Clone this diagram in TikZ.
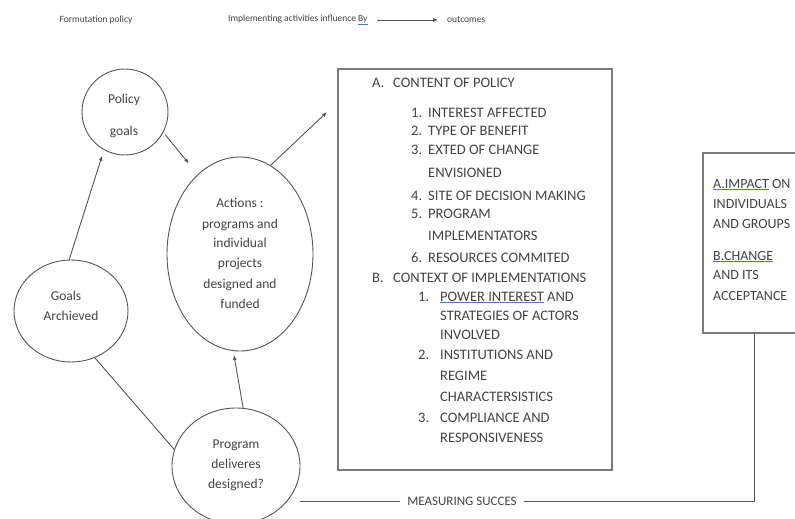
\documentclass[tikz,border=0pt]{standalone}
\usepackage{fontspec}
\setmainfont{Carlito}
\usetikzlibrary{shapes.geometric,arrows.meta}
\definecolor{ink}{HTML}{444444}
\definecolor{edge}{HTML}{555555}
\definecolor{frame}{HTML}{7a7a7a}
\definecolor{markblue}{HTML}{5a72b5}
% word with a thin blue underline
\newcommand\marked[1]{{\color{markblue}\underline{\color{ink}#1}}}
\begin{document}
\begin{tikzpicture}[x=1pt,y=-1pt,
  bubble/.style={draw=edge, line width=0.9pt, ellipse, inner sep=0pt},
  panel/.style={draw=frame, line width=1.3pt, rectangle, inner sep=0pt},
  lbl/.style={text=ink, inner sep=0pt},
  toplbl/.style={lbl, font=\fontsize{9.5}{11}\selectfont},
  bublbl/.style={lbl, anchor=base, font=\fontsize{13.5}{16}\selectfont},
  item/.style={lbl, anchor=base west, font=\fontsize{14.5}{17}\selectfont},
  ritem/.style={lbl, anchor=base west, font=\fontsize{14}{17}\selectfont},
  link/.style={draw=edge, line width=0.9pt},
  arr/.style={link, -{Latex[length=5pt,width=4pt]}}]
\useasboundingbox (0,0) rectangle (795,519);
\fill[white] (0,0) rectangle (795,519);

% headings
\node[toplbl] (form) at (96,20) {Formutation policy};
\node[toplbl, anchor=west] (impl) at (228,20) {Implementing activities influence \marked{By}};
\node[toplbl, anchor=west] (outc) at (447,20) {outcomes};
\draw[arr, shorten <=9pt, shorten >=9pt] (impl.east) -- (outc.west);

% bubbles
\node[bubble, minimum width=86pt, minimum height=86pt] (policy) at (125,112) {};
\node[bubble, minimum width=146pt, minimum height=194pt] (actions) at (240,254) {};
\node[bubble, minimum width=114pt, minimum height=102pt] (goalsA) at (71,311) {};
\node[bubble, minimum width=128pt, minimum height=116pt] (program) at (236,466) {};

\node[bublbl] (p1) at (124,103) {Policy};
\node[bublbl] (p2) at (124,135) {goals};

\node[bublbl] (a1) at (240,207) {Actions :};
\node[bublbl] (a2) at (240,228) {programs and};
\node[bublbl] (a3) at (240,247) {individual};
\node[bublbl] (a4) at (240,267) {projects};
\node[bublbl] (a5) at (240,288) {designed and};
\node[bublbl] (a6) at (240,308) {funded};

\node[bublbl] (g1) at (66,300) {Goals};
\node[bublbl] (g2) at (71,320) {Archieved};

\node[bublbl] (r1) at (236,448) {Program};
\node[bublbl] (r2) at (236,468) {deliveres};
\node[bublbl] (r3) at (236,488) {designed?};

% panels
\node[panel, minimum width=274pt, minimum height=401pt] (content) at (475,269.5) {};
\node[panel, minimum width=102pt, minimum height=180pt] (impact) at (754,243) {};
\coordinate (tip) at (327,112);

% content list
\node[item] (ha) at (372,88) {A.};
\node[item] (hat) at (393,88) {CONTENT OF POLICY};
\node[item] (n1) at (411,117) {1.};
\node[item] (i1) at (428,117) {INTEREST AFFECTED};
\node[item] (n2) at (411,135) {2.};
\node[item] (i2) at (428,135) {TYPE OF BENEFIT};
\node[item] (n3) at (411,154) {3.};
\node[item] (i3) at (428,154) {EXTED OF CHANGE};
\node[item] (i3b) at (428,177) {ENVISIONED};
\node[item] (n4) at (411,200) {4.};
\node[item] (i4) at (428,200) {SITE OF DECISION MAKING};
\node[item] (n5) at (411,218) {5.};
\node[item] (i5) at (428,218) {PROGRAM};
\node[item] (i5b) at (428,240) {IMPLEMENTATORS};
\node[item] (n6) at (411,262) {6.};
\node[item] (i6) at (428,262) {RESOURCES COMMITED};
\node[item] (hb) at (372,282) {B.};
\node[item] (hbt) at (393,282) {CONTEXT OF IMPLEMENTATIONS};
\node[item] (m1) at (418,301) {1.};
\node[item] (j1) at (440,301) {\marked{POWER INTEREST} AND};
\node[item] (j1b) at (440,320) {STRATEGIES OF ACTORS};
\node[item] (j1c) at (440,339) {INVOLVED};
\node[item] (m2) at (418,359) {2.};
\node[item] (j2) at (440,359) {INSTITUTIONS AND};
\node[item] (j2b) at (440,380) {REGIME};
\node[item] (j2c) at (440,401) {CHARACTERSISTICS};
\node[item] (m3) at (418,422) {3.};
\node[item] (j3) at (440,422) {COMPLIANCE AND};
\node[item] (j3b) at (440,442) {RESPONSIVENESS};

% outcomes list
\node[ritem] (o1) at (713,188) {\marked{A.IMPACT} ON};
\node[ritem] (o2) at (713,208) {INDIVIDUALS};
\node[ritem] (o3) at (713,228) {AND GROUPS};
\node[ritem] (o4) at (713,260) {\marked{B.CHANGE}};
\node[ritem] (o5) at (713,279) {AND ITS};
\node[ritem] (o6) at (713,300) {ACCEPTANCE};

% measuring line
\node[lbl, font=\fontsize{13}{15}\selectfont, inner xsep=7pt] (measure) at (462,501) {MEASURING SUCCES};

% connectors
\draw[arr, shorten >=6pt] (goalsA.92) -- (policy.241);
\draw[arr, shorten <=3pt, shorten >=14pt] (policy.332) -- (actions.118);
\draw[arr] (actions.71) -- (tip);
\draw[arr, shorten >=4pt] (program.83) -- (actions.266);
\draw[link] (goalsA.297) -- (program.165);
\draw[link] (measure.west) -- (measure.west -| program.east);
\draw[link] (measure.east) -| (impact.south);
\end{tikzpicture}
\end{document}
